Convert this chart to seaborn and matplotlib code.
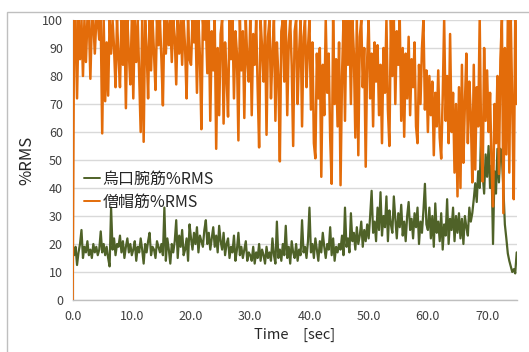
import numpy as np
import pandas as pd
import matplotlib
matplotlib.use("Agg")
import matplotlib.pyplot as plt
from matplotlib.patches import Rectangle
import seaborn as sns

# ---- data (0.25 s sampling) ----
sample_step = 0.25

green_label = "烏口腕筋%RMS"
orange_label = "僧帽筋%RMS"

g_00 = [18, 16, 19, 12.5, 17, 20, 25, 15, 19, 17, 21, 16, 18, 15, 20, 17, 19, 16, 18, 24.5]
g_05 = [17, 20, 16, 19, 15, 12, 33, 18, 22, 16, 20, 19, 23, 17, 21, 15, 19, 22, 17, 20]
g_10 = [16, 18, 21, 14, 19, 17, 22, 18, 13, 20, 17, 21, 24, 16, 19, 18, 15, 21, 19, 17]
g_15 = [20, 16, 33, 14, 22, 18, 13, 20, 17, 21, 28.5, 15, 23, 19, 25, 16, 18, 22, 14, 27]
g_20 = [22, 18, 24, 20, 26, 17, 23, 21, 19, 25, 28.5, 20, 24, 18, 22, 26, 19, 23, 17, 26.5]
g_25 = [21, 18, 24, 16, 20, 22, 15, 19, 17, 23, 14, 18, 24, 16, 19, 15, 18, 21, 14, 17]
g_30 = [16, 14, 19, 13, 17, 15, 20, 14, 18, 16, 13, 19, 15, 17, 14, 22, 16, 13, 28, 15]
g_35 = [18, 14, 20, 16, 26.5, 15, 19, 13, 21, 17, 15, 20, 14, 18, 16, 28.5, 17, 19, 15, 21]
g_40 = [33, 17, 20, 15, 22, 18, 14, 21, 17, 24, 19, 15, 20, 18, 26, 16, 22, 14, 19, 17]
g_45 = [20, 18, 23, 16, 33, 19, 22, 17, 31, 21, 24, 18, 26, 20, 23, 28, 19, 25, 21, 27]
g_50 = [22, 30, 39, 24, 28, 21, 33, 25, 38.5, 23, 30, 26, 37, 21, 32, 27, 24, 37, 29, 22]
g_55 = [31, 26, 34, 23, 28, 21, 30, 35, 25, 29, 22, 31, 26, 33, 20, 28, 24, 32, 41.5, 27]
g_60 = [25, 33, 22, 30, 19, 34.5, 24, 28, 21, 31, 18, 27, 23, 36, 20, 29, 25, 33, 21, 30]
g_65 = [24, 31, 22, 29, 20, 30, 26, 23, 33, 28, 31, 36, 41.7, 35, 46, 40, 62, 45, 38, 52]
g_70 = [44, 55, 40, 48, 20, 46, 38, 54, 42, 54, 51, 40, 27, 22, 16.6, 14, 12, 10, 11, 9.5, 17]

o_00 = [0, 100, 100, 72, 100, 86, 100, 80, 100, 85, 100, 100, 79, 100, 100, 88, 100, 100, 93, 100]
o_05 = [59.5, 100, 71, 92, 73, 100, 88, 100, 90, 76, 100, 87, 76, 100, 84, 100, 68.5, 100, 88, 77]
o_10 = [100, 72, 100, 85, 100, 80, 60, 100, 56.5, 100, 90, 72, 100, 82, 100, 88, 75, 100, 91, 100]
o_15 = [86, 69.5, 100, 88, 100, 91, 100, 85, 100, 94, 77, 100, 88, 100, 84, 100, 90, 72, 100, 86]
o_20 = [84, 100, 92, 100, 74, 100, 87, 61, 100, 93, 100, 81, 100, 64, 96, 82, 100, 54, 90, 66]
o_25 = [95, 100, 63, 92, 80, 65.5, 100, 86, 100, 72, 96, 88, 57, 100, 82, 96, 65, 100, 86, 78]
o_30 = [100, 66, 95, 84, 100, 76, 54.5, 100, 90, 78, 100, 59, 94, 100, 72, 88, 100, 64, 92, 80]
o_35 = [49.5, 96, 100, 78, 100, 66, 92, 100, 84, 55, 96, 100, 70, 88, 100, 62, 94, 100, 76, 90]
o_40 = [100, 68, 92, 56, 50.6, 88, 72, 90, 44, 84, 66, 100, 74, 88, 58, 41.5, 100, 70, 86, 62]
o_45 = [92, 41, 80, 100, 64, 100, 84, 100, 70, 100, 88, 58, 100, 51.7, 94, 100, 76, 90, 47.6, 86]
o_50 = [100, 72, 88, 62, 92, 78, 91, 66, 84, 56, 90, 74, 100, 68, 55, 100, 80, 100, 70, 96]
o_55 = [84, 100, 64, 90, 58.3, 88, 72, 94, 66, 86, 76, 92, 62, 56, 84, 70, 90, 100, 68, 82]
o_60 = [60, 80, 66, 78, 51.7, 74, 62, 82, 58, 50.5, 72, 100, 64, 80, 56, 95, 60, 74, 45.5, 70]
o_65 = [37, 76, 40, 84, 49, 70, 88, 56, 78, 66, 42, 84, 46.6, 76, 62, 100, 56, 42.3, 90, 64]
o_70 = [82, 60, 74, 48, 33.4, 70, 56, 80, 45, 86, 100, 31, 90, 52, 100, 45.5, 100, 70, 36, 100, 70]

x_ticks = [0, 10, 20, 30, 40, 50, 60, 70]
x_tick_labels = ["0.0", "10.0", "20.0", "30.0", "40.0", "50.0", "60.0", "70.0"]
y_ticks = [0, 10, 20, 30, 40, 50, 60, 70, 80, 90, 100]

green = (g_00 + g_05 + g_10 + g_15 + g_20 + g_25 + g_30 + g_35 +
         g_40 + g_45 + g_50 + g_55 + g_60 + g_65 + g_70)
orange = (o_00 + o_05 + o_10 + o_15 + o_20 + o_25 + o_30 + o_35 +
          o_40 + o_45 + o_50 + o_55 + o_60 + o_65 + o_70)
time = np.arange(len(green)) * sample_step

df = pd.DataFrame({"time": time, "green": green, "orange": orange})

# ---- style ----
sns.set_style("white")
plt.rcParams["font.family"] = ["Noto Sans CJK JP", "DejaVu Sans"]

W, H = 529, 352
fig = plt.figure(figsize=(W / 100, H / 100), dpi=100)

# outer chart frame
fig.patches.append(Rectangle((7 / W, -0.2), 1.5, 1 - 12 / H + 0.2,
                             transform=fig.transFigure, fill=False,
                             edgecolor="#BFBFBF", linewidth=1.0))

left, right, top, bottom = 72.6, 516.7, 20, 300
ax = fig.add_axes([left / W, 1 - bottom / H, (right - left) / W, (bottom - top) / H])

green_c = "#4F6228"
orange_c = "#E36C0A"

sns.lineplot(data=df, x="time", y="green", ax=ax, color=green_c,
             linewidth=1.6, label=green_label, zorder=3)
sns.lineplot(data=df, x="time", y="orange", ax=ax, color=orange_c,
             linewidth=1.8, label=orange_label, zorder=4)

ax.set_xlim(0, 75)
ax.set_ylim(0, 100)
ax.set_xticks(x_ticks)
ax.set_xticklabels(x_tick_labels)
ax.set_yticks(y_ticks)

ax.grid(axis="y", color="#D9D9D9", linewidth=1.0, zorder=0)
ax.grid(axis="x", visible=False)
ax.set_axisbelow(True)

for s in ["top", "right"]:
    ax.spines[s].set_visible(False)
for s in ["left", "bottom"]:
    ax.spines[s].set_color("#BFBFBF")
    ax.spines[s].set_linewidth(1.0)

ax.tick_params(axis="both", which="major", direction="out", length=4,
               width=1.0, color="#BFBFBF", labelsize=9, labelcolor="#404040", pad=3)

ax.set_xlabel("Time\u3000[sec]", fontsize=10.5, color="#262626", labelpad=4)
ax.set_ylabel("%RMS", fontsize=12, color="#262626", labelpad=5)

leg = ax.legend(loc="upper left", bbox_to_anchor=(84 / W, 1 - 171 / H),
                bbox_transform=fig.transFigure, frameon=False,
                fontsize=11.5, handlelength=1.0, handletextpad=0.15,
                labelspacing=0.35, borderpad=0, borderaxespad=0)
for line in leg.get_lines():
    line.set_linewidth(1.4)
for t in leg.get_texts():
    t.set_color("#262626")

fig.savefig("out.png", dpi=100)
